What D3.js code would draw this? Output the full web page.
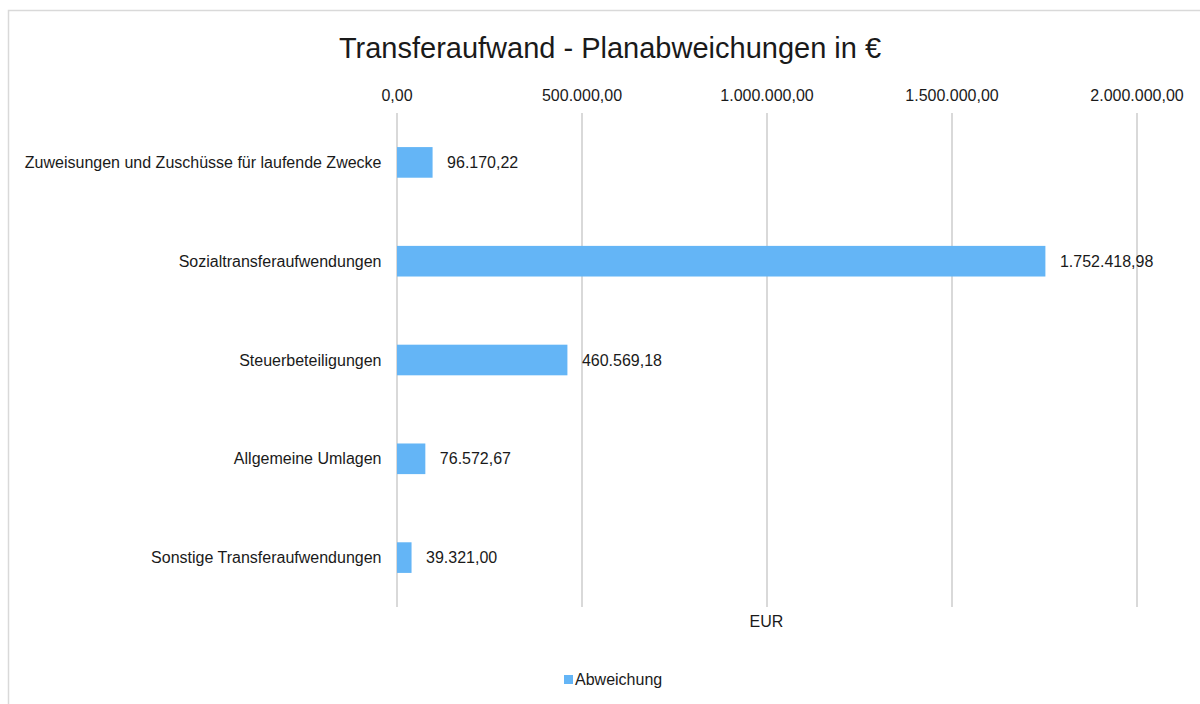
<!DOCTYPE html>
<html>
<head>
<meta charset="utf-8">
<script src="https://cdn.jsdelivr.net/npm/d3@7"></script>
<style>
  body { margin: 0; background: #fff; }
  text { font-family: "Liberation Sans", Arial, sans-serif; fill: #1a1a1a; }
</style>
</head>
<body>
<div id="wrapper"></div>
<script>
const categories = [
    "Zuweisungen und Zuschüsse für laufende Zwecke",
    "Sozialtransferaufwendungen",
    "Steuerbeteiligungen",
    "Allgemeine Umlagen",
    "Sonstige Transferaufwendungen",
]
const values = [96170.22, 1752418.98, 460569.18, 76572.67, 39321.00]
const xTicks = [0, 500000, 1000000, 1500000, 2000000]
const seriesName = "Abweichung"
const titleText = "Transferaufwand - Planabweichungen in €"
const axisTitle = "EUR"

function drawBarChart(){
    let dimensions = {
        width: 1200,
        height: 704,
        margin: { top: 113, right: 63.5, bottom: 97, left: 396.5 },
    }
    dimensions.boundedWidth = dimensions.width - dimensions.margin.left - dimensions.margin.right
    dimensions.boundedHeight = dimensions.height - dimensions.margin.top - dimensions.margin.bottom

    // german number format
    const de = d3.formatLocale({ decimal: ",", thousands: ".", grouping: [3], currency: ["", " €"] })
    const fmt = de.format(",.2f")
    const fontSize = "16px"

    const wrapper = d3.select("#wrapper")
        .append("svg")
        .attr("width", dimensions.width)
        .attr("height", dimensions.height)

    // chart frame
    wrapper.append("rect")
        .attr("x", 8.5).attr("y", 10.5)
        .attr("width", 1200).attr("height", 710)
        .attr("fill", "none")
        .attr("stroke", "#d9d9d9")
        .attr("stroke-width", 1.5)

    wrapper.append("text")
        .attr("x", 610)
        .attr("y", 58)
        .attr("text-anchor", "middle")
        .style("font-size", "29px")
        .text(titleText)

    const bounds = wrapper.append("g")
        .attr("transform", `translate(${dimensions.margin.left},${dimensions.margin.top})`)

    const xScale = d3.scaleLinear()
        .domain([0, 2000000])
        .range([0, dimensions.boundedWidth])

    const yScale = d3.scaleBand()
        .domain(categories)
        .range([0, dimensions.boundedHeight])
        .paddingInner(0.69)
        .paddingOuter(0.345)

    // gridlines
    bounds.append("g")
        .selectAll("line")
        .data(xTicks)
        .join("line")
        .attr("x1", d => Math.round(xScale(d)) + 0.5)
        .attr("x2", d => Math.round(xScale(d)) + 0.5)
        .attr("y1", 0)
        .attr("y2", dimensions.boundedHeight)
        .attr("stroke", "#d9d9d9")
        .attr("stroke-width", 2)

    // top axis
    const xAxis = bounds.append("g")
        .call(d3.axisTop(xScale).tickValues(xTicks).tickFormat(fmt).tickSize(0).tickPadding(12))
    xAxis.select(".domain").remove()
    xAxis.selectAll("text")
        .style("font-family", "Liberation Sans, Arial, sans-serif")
        .style("font-size", fontSize)
        .attr("fill", "#1a1a1a")

    // category labels
    bounds.append("g")
        .selectAll("text")
        .data(categories)
        .join("text")
        .attr("x", -15)
        .attr("y", d => yScale(d) + yScale.bandwidth() / 2)
        .attr("dy", "0.35em")
        .attr("text-anchor", "end")
        .style("font-size", fontSize)
        .text(d => d)

    const data = categories.map((c, i) => ({ cat: c, value: values[i] }))

    bounds.append("g")
        .selectAll("rect")
        .data(data)
        .join("rect")
        .attr("x", xScale(0) + 0.5)
        .attr("y", d => yScale(d.cat))
        .attr("width", d => xScale(d.value) - xScale(0))
        .attr("height", yScale.bandwidth())
        .attr("fill", "#64b5f6")

    bounds.append("g")
        .selectAll("text")
        .data(data)
        .join("text")
        .attr("x", d => xScale(d.value) + 15)
        .attr("y", d => yScale(d.cat) + yScale.bandwidth() / 2)
        .attr("dy", "0.35em")
        .style("font-size", fontSize)
        .text(d => fmt(d.value))

    // axis title
    bounds.append("text")
        .attr("x", dimensions.boundedWidth / 2)
        .attr("y", dimensions.boundedHeight + 14)
        .attr("dy", "0.35em")
        .attr("text-anchor", "middle")
        .style("font-size", fontSize)
        .text(axisTitle)

    // legend
    const legend = wrapper.append("g")
        .attr("transform", "translate(564,675)")
    legend.append("rect")
        .attr("width", 9).attr("height", 9)
        .attr("fill", "#64b5f6")
    legend.append("text")
        .attr("x", 11)
        .attr("y", 4.5)
        .attr("dy", "0.35em")
        .style("font-size", fontSize)
        .text(seriesName)
}
drawBarChart()
</script>
</body>
</html>
